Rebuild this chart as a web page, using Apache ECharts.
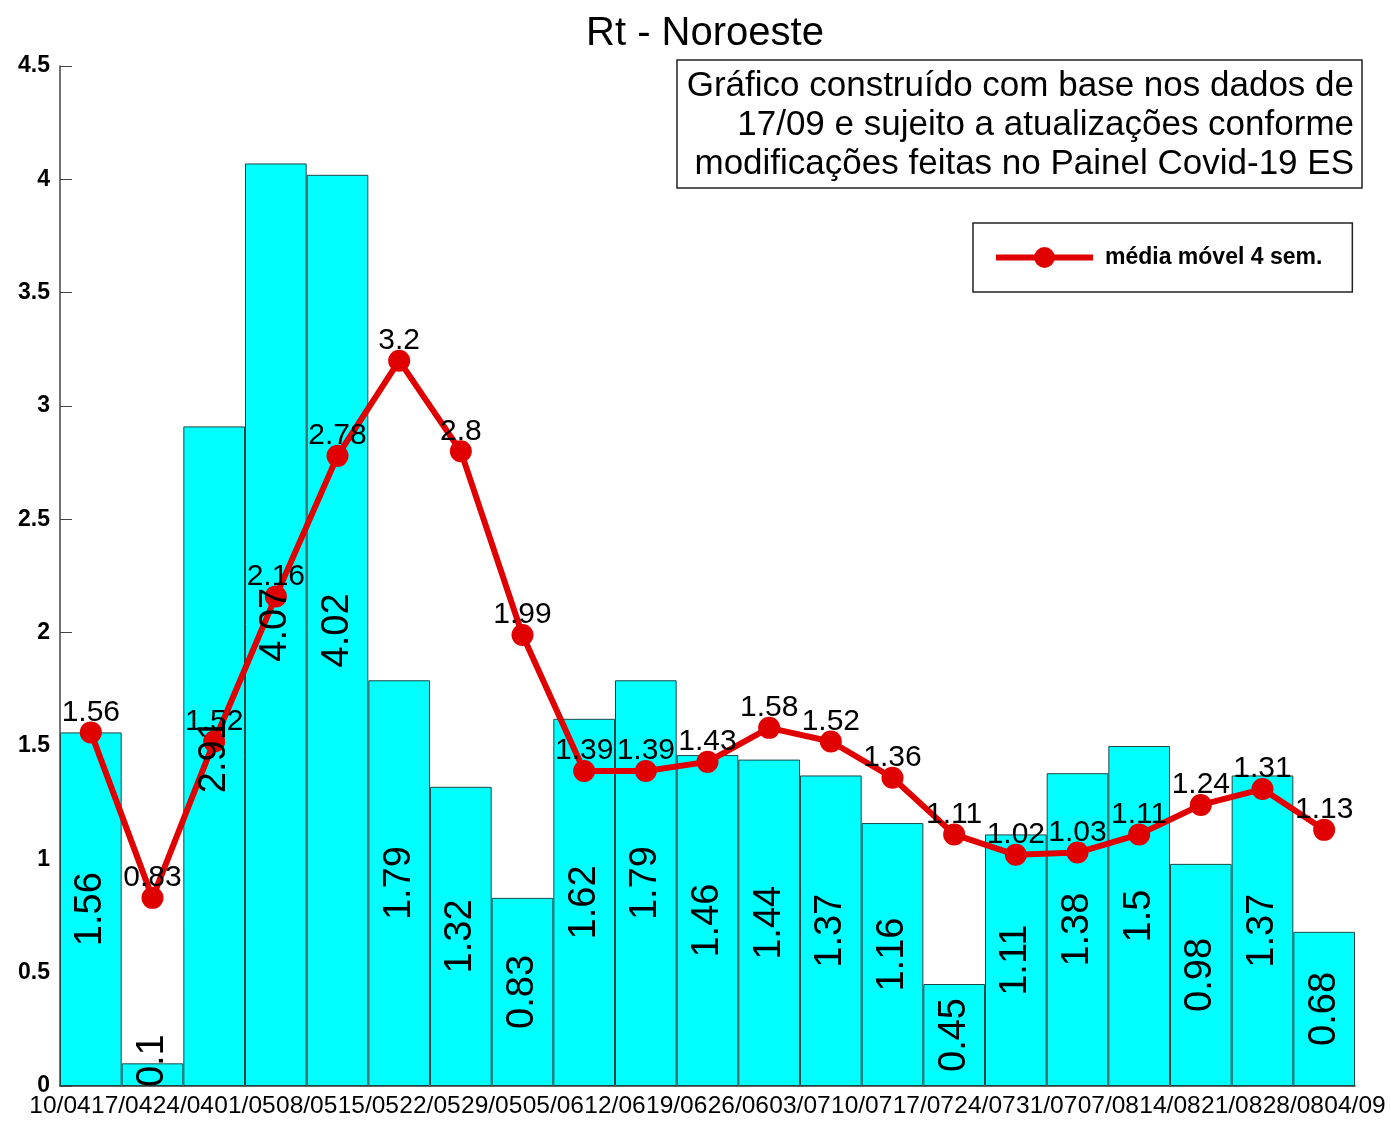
<!DOCTYPE html>
<html>
<head>
<meta charset="utf-8">
<title>Rt - Noroeste</title>
<script src="https://cdn.jsdelivr.net/npm/echarts@6/dist/echarts.min.js"></script>
<style>
  html, body { margin: 0; padding: 0; background: #fff; }
  #chart { width: 1391px; height: 1122px; }
</style>
</head>
<body>
<div id="chart"></div>
<script>
// datas de inicio de cada semana (bordas das barras)
const dates = ["10/04", "17/04", "24/04", "01/05", "08/05", "15/05", "22/05", "29/05",
  "05/06", "12/06", "19/06", "26/06", "03/07", "10/07", "17/07", "24/07", "31/07",
  "07/08", "14/08", "21/08", "28/08", "04/09"];
// Rt semanal (barras)
const rtSemanal = [1.56, 0.1, 2.91, 4.07, 4.02, 1.79, 1.32, 0.83, 1.62, 1.79, 1.46,
  1.44, 1.37, 1.16, 0.45, 1.11, 1.38, 1.5, 0.98, 1.37, 0.68];
// media movel 4 semanas (linha)
const mediaMovel = [1.56, 0.83, 1.52, 2.16, 2.78, 3.2, 2.8, 1.99, 1.39, 1.39, 1.43,
  1.58, 1.52, 1.36, 1.11, 1.02, 1.03, 1.11, 1.24, 1.31, 1.13];
const yTicks = [0, 0.5, 1, 1.5, 2, 2.5, 3, 3.5, 4, 4.5];

const weeks = dates.slice(0, rtSemanal.length);
const font = "Liberation Sans, Arial, sans-serif";

let myChart = echarts.init(document.getElementById("chart"));
myChart.setOption({
  animation: false,
  textStyle: { fontFamily: font },
  title: {
    text: "Rt - Noroeste",
    left: 700,
    textAlign: "center",
    top: 9,
    textStyle: { fontSize: 40, fontWeight: "normal", color: "#000", fontFamily: font },
  },
  legend: {
    data: ["média móvel 4 sem."],
    left: 973,
    top: 223,
    padding: [23, 30, 23, 20],
    itemWidth: 97,
    itemHeight: 26,
    borderColor: "#222",
    borderWidth: 1.5,
    lineStyle: { width: 6 },
    textStyle: { fontSize: 23, fontWeight: "bold", color: "#000", padding: [0, 0, 0, 7], fontFamily: font },
  },
  grid: { left: 60, right: 36, top: 66, bottom: 36, containLabel: false },
  xAxis: [
    {
      type: "category",
      data: weeks,
      position: "bottom",
      boundaryGap: true,
      axisLine: { lineStyle: { color: "#333", width: 1.5 } },
      axisTick: { show: false },
      axisLabel: { show: false },
    },
    {
      // rotulos nas bordas das barras
      type: "value",
      position: "bottom",
      min: 0,
      max: dates.length - 1,
      interval: 1,
      axisLine: { show: false },
      axisTick: { show: false },
      splitLine: { show: false },
      axisLabel: {
        color: "#000",
        fontSize: 24.5,
        margin: 8,
        hideOverlap: false,
        showMinLabel: true,
        showMaxLabel: true,
        formatter: (v) => dates[v] || "",
      },
    },
  ],
  yAxis: {
    type: "value",
    min: yTicks[0],
    max: yTicks[yTicks.length - 1],
    interval: 0.5,
    axisLine: { show: true, lineStyle: { color: "#444", width: 1.5 } },
    axisTick: { show: true, inside: true, length: 12, lineStyle: { color: "#444" } },
    splitLine: { show: false },
    axisLabel: { color: "#000", fontSize: 23, fontWeight: "bold", margin: 10 },
  },
  graphic: [
    {
      type: "rect",
      shape: { x: 677, y: 60, width: 685, height: 128 },
      style: { fill: "#fff", stroke: "#222", lineWidth: 1.5 },
      z: 10,
    },
    {
      type: "text",
      x: 1354,
      y: 125,
      z: 11,
      style: {
        text: "Gráfico construído com base nos dados de\n17/09 e sujeito a atualizações conforme\nmodificações feitas no Painel Covid-19 ES",
        fontSize: 35,
        fontFamily: font,
        lineHeight: 39,
        align: "right",
        verticalAlign: "middle",
        fill: "#000",
      },
    },
  ],
  series: [
    {
      name: "Rt",
      type: "bar",
      data: rtSemanal,
      barCategoryGap: "0%",
      barGap: "-100%",
      itemStyle: { color: "#00ffff", borderColor: "#1e4646", borderWidth: 1 },
      z: 2,
    },
    {
      name: "média móvel 4 sem.",
      type: "line",
      data: mediaMovel,
      symbol: "circle",
      symbolSize: 22,
      lineStyle: { color: "#e00000", width: 6 },
      itemStyle: { color: "#e00000" },
      label: {
        show: true,
        position: "top",
        distance: -6,
        fontSize: 30,
        color: "#000",
        fontFamily: font,
      },
      z: 3,
    },
    {
      // rotulos das barras por cima da linha
      name: "rotulos",
      type: "bar",
      data: rtSemanal.map((v) => (v < 0.2 ? { value: v, label: { offset: [14, 0] } } : v)),
      barCategoryGap: "0%",
      barGap: "-100%",
      itemStyle: { color: "rgba(0,0,0,0)" },
      label: {
        show: true,
        position: "inside",
        rotate: 90,
        fontSize: 38,
        color: "#000",
        fontFamily: font,
      },
      silent: true,
      z: 5,
    },
  ],
});
</script>
</body>
</html>
